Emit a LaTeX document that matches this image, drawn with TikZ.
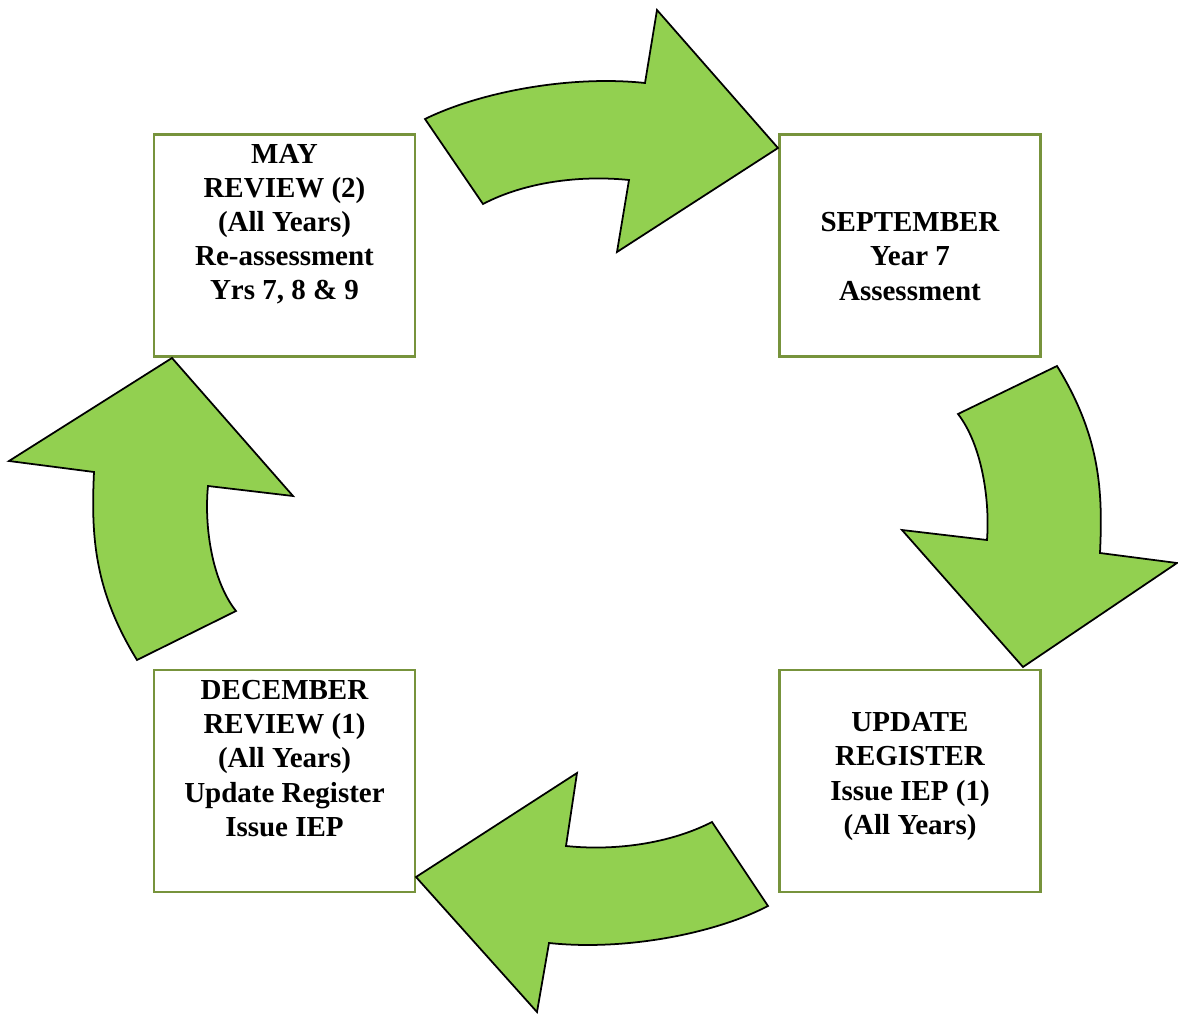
\documentclass[tikz,border=0pt]{standalone}
\usepackage{fontspec}
\setmainfont{Liberation Serif}
\definecolor{arrowgreen}{HTML}{92D050}
\definecolor{boxolive}{HTML}{77933C}
\tikzset{
	monthbox/.style={draw=boxolive, line width=1.4pt, fill=white, minimum width=5.22cm, minimum height=4.44cm, inner sep=0pt},
	boxtext/.style={align=center, font=\fontsize{16.5}{19.4}\selectfont\bfseries, inner sep=0pt},
	cyclearrow/.style={draw=black, fill=arrowgreen, line width=1pt, line join=miter}
}
\begin{document}
\begin{tikzpicture}[x=0.02cm, y=-0.02cm]
	\useasboundingbox (0,0) rectangle (1178,1014);
	\node[monthbox] (may) at (284.5,245.5) {};
	\node[monthbox] (sep) at (910,245.5) {};
	\node[monthbox] (dec) at (284.5,781) {};
	\node[monthbox] (upd) at (910,781) {};
	\node[boxtext] (maytext) at (284.5,224.5) {MAY\\REVIEW (2)\\(All Years)\\Re-assessment\\Yrs 7, 8 \& 9};
	\node[boxtext] (septext) at (910,256.5) {SEPTEMBER\\Year 7\\Assessment};
	\node[boxtext] (dectext) at (284.5,758.5) {DECEMBER\\REVIEW (1)\\(All Years)\\Update Register\\Issue IEP};
	\node[boxtext] (updtext) at (910,776.5) {UPDATE\\REGISTER\\Issue IEP (1)\\(All Years)};
	\draw[cyclearrow] (425,119) .. controls (480,92) and (570,75) .. (645,83) -- (657,10) -- (778,148) -- (617,252) -- (629,180) .. controls (580,175) and (525,182) .. (483,204) -- cycle;
	\draw[cyclearrow] (1057,366) .. controls (1100,436) and (1103,490) .. (1100,553) -- (1177,563) -- (1023,667) -- (902,530) -- (987,540) .. controls (990,500) and (982,445) .. (958,414) -- cycle;
	\draw[cyclearrow] (768,906) -- (712,822) .. controls (669,844) and (614,851) .. (566,846) -- (577,773) -- (416,877) -- (537,1012) -- (549,943) .. controls (624,951) and (714,934) .. (768,906) -- cycle;
	\draw[cyclearrow] (137,660) -- (236,611) .. controls (212,581) and (204,526) .. (208,486) -- (293,496) -- (172,358) -- (9,461) -- (94,472) .. controls (91,536) and (94,590) .. (137,660) -- cycle;
	%\draw[cyclearrow] (94,472) -- (208,486);
\end{tikzpicture}
\end{document}
